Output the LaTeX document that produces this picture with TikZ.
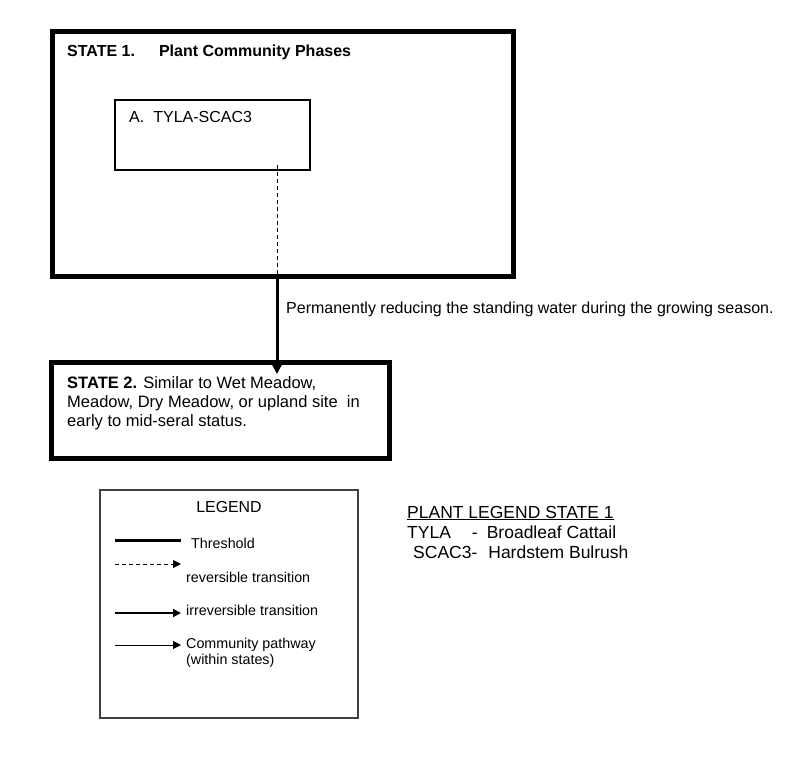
\documentclass[tikz,border=0pt]{standalone}
\usepackage{fontspec}
\setmainfont{Liberation Sans}
\usetikzlibrary{arrows.meta,positioning}
\begin{document}
\begin{tikzpicture}[x=1pt, y=-1pt,
	statebox/.style={draw, line width=5pt, inner sep=0pt},
	phasebox/.style={draw, line width=1.2pt, inner sep=0pt},
	txt/.style={anchor=base west, inner sep=0pt, font=\fontsize{16}{19}\selectfont},
	small/.style={anchor=base west, inner sep=0pt, align=left, font=\fontsize{14.3}{16}\selectfont},
	plant/.style={anchor=base west, inner sep=0pt, font=\fontsize{17.5}{20}\selectfont},
	thres/.style={line width=3pt},
	rev/.style={line width=1pt, dash pattern=on 4pt off 3pt},
	irrev/.style={line width=3pt, -{Triangle[length=11pt,width=11pt]}},
	keyrev/.style={line width=1pt, dash pattern=on 4pt off 3pt, -{Triangle[length=8pt,width=8pt]}},
	keyirrev/.style={line width=2.5pt, -{Triangle[length=8pt,width=8pt]}},
	keypath/.style={line width=1pt, -{Triangle[length=8pt,width=8pt]}}]
	\useasboundingbox (0,0) rectangle (800,778);
	
	%state 1
	\node[statebox, minimum width=461pt, minimum height=244pt] (s1) at (282.5,154){};
	\node[txt] (t1) at (67,57){\bfseries STATE 1.\hspace{24pt}Plant Community Phases};
	\node[phasebox, minimum width=195pt, minimum height=70pt] (pa) at (212.5,135){};
	\node[txt] (ta) at (129,123){A.\hspace{9pt}TYLA-SCAC3};
	
	%state 2
	\node[statebox, minimum width=338pt, minimum height=96pt] (s2) at (220,410){};
	\node[txt, align=left, font=\fontsize{16.5}{19}\selectfont] (t2) at (67,426){\textbf{STATE 2.} Similar to Wet Meadow,\\
		Meadow, Dry Meadow, or upland site\ \ in\\
		early to mid-seral status.};
	
	%transition
	\coordinate (d0) at (277,165);
	\coordinate (tip) at (277,374);
	\draw[rev] (d0) -- (d0 |- s1.south);
	\draw[irrev] (d0 |- s1.south) -- (tip);
	\node[txt] (tr) at (286,313){Permanently reducing the standing water during the growing season.};
	
	%legend
	\node[draw=black!75, line width=1.2pt, minimum width=258pt, minimum height=228pt] (leg) at (229,604){};
	\node[anchor=base, inner sep=0pt, font=\fontsize{15.9}{18}\selectfont] (lt) at (229,512){LEGEND};
	\foreach \n/\y/\sty in {1/540/thres, 2/564/keyrev, 3/613/keyirrev, 4/645/keypath}{
		\coordinate (key\n a) at (115,\y);
		\coordinate (key\n b) at (181,\y);
		\draw[\sty] (key\n a) -- (key\n b);
	}
	\node[small] (l1) at (191,548){Threshold};
	\node[small] (l2) at (186,582){reversible transition};
	\node[small] (l3) at (186,615){irreversible transition};
	\node[small] (l4) at (186,664){Community pathway\\(within states)};
	
	%plant legend
	\node[plant] (p0) at (407,518){\underline{PLANT LEGEND STATE 1}};
	\node[plant] (p1) at (407,538){TYLA\hspace{21pt}-\hspace{9pt}Broadleaf Cattail};
	\node[plant] (p2) at (413,558){SCAC3-\hspace{11pt}Hardstem Bulrush};
\end{tikzpicture}
\end{document}
